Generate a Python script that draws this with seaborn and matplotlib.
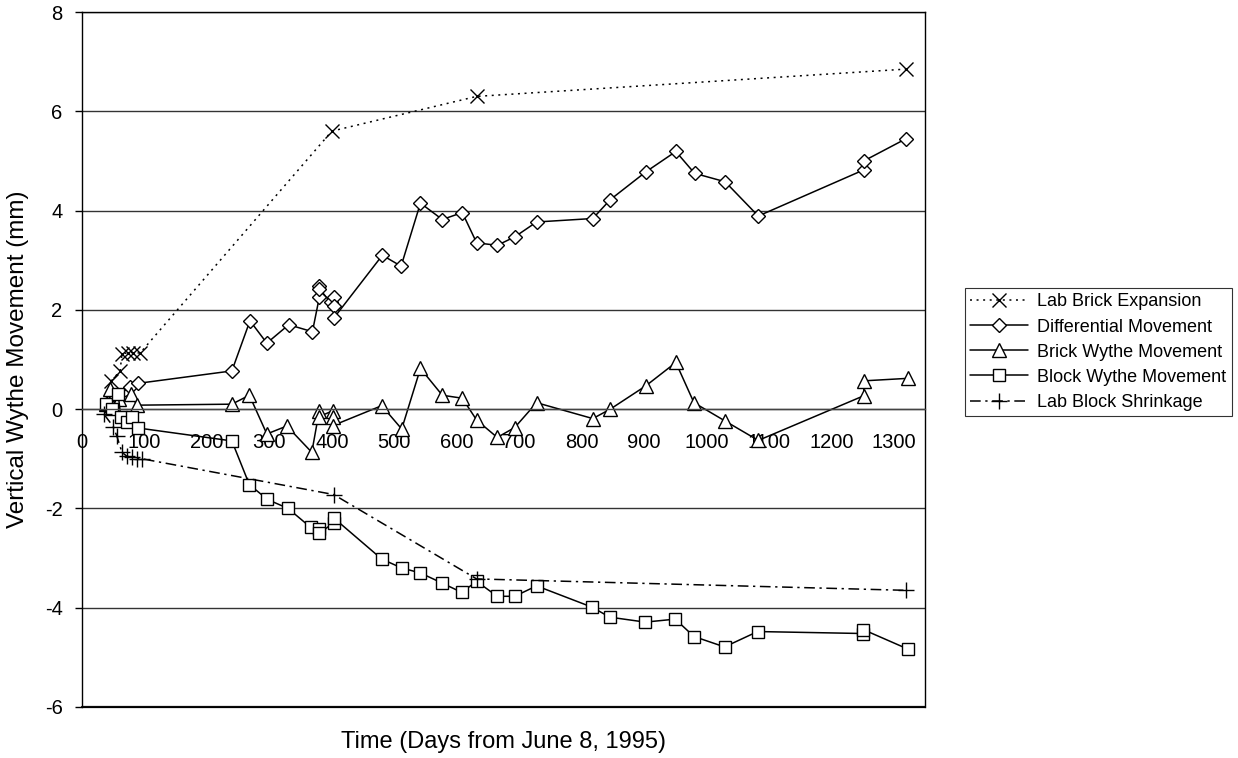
import matplotlib
matplotlib.use("Agg")
import matplotlib.pyplot as plt
import seaborn as sns

# data (days from June 8, 1995 / mm)
brick_exp_days = [47, 61, 64, 74, 82, 93, 400, 632, 1320]
brick_exp_mm = [0.57, 0.77, 1.11, 1.14, 1.14, 1.13, 5.6, 6.3, 6.85]

diff_days = [40, 55, 77, 90, 240, 269, 296, 331, 369, 380, 380, 380, 398, 403, 403,
             403, 481, 511, 542, 577, 609, 632, 665, 693, 728, 818, 846, 903, 951,
             981, 1030, 1083, 1252, 1252, 1320]
diff_mm = [0.05, 0.25, 0.45, 0.52, 0.77, 1.78, 1.33, 1.70, 1.56, 2.25, 2.49, 2.43, 2.15,
           2.26, 2.07, 1.83, 3.10, 2.88, 4.15, 3.82, 3.96, 3.35, 3.30, 3.47, 3.77, 3.84,
           4.22, 4.78, 5.19, 4.75, 4.58, 3.89, 4.82, 5.0, 5.45]

brick_days = [38, 45, 60, 78, 88, 240, 268, 296, 328, 368, 380, 380, 402, 402, 402,
              480, 512, 542, 577, 609, 632, 665, 693, 728, 818, 846, 903, 951, 980,
              1030, 1083, 1252, 1252, 1322]
brick_mm = [0.1, 0.4, 0.2, 0.3, 0.08, 0.1, 0.28, -0.5, -0.34, -0.87, -0.03, -0.15,
            -0.03, -0.15, -0.33, 0.07, -0.40, 0.82, 0.28, 0.22, -0.22, -0.57, -0.37,
            0.13, -0.19, 0.0, 0.47, 0.94, 0.13, -0.24, -0.63, 0.27, 0.57, 0.62]

block_days = [38, 48, 58, 62, 72, 80, 90, 240, 268, 297, 330, 366, 380, 380, 403, 403,
              480, 512, 542, 576, 608, 632, 665, 693, 728, 817, 845, 902, 950, 980,
              1029, 1082, 1251, 1251, 1322]
block_mm = [0.1, 0.0, 0.3, -0.15, -0.25, -0.15, -0.38, -0.64, -1.52, -1.82, -2.0, -2.38,
            -2.42, -2.5, -2.29, -2.19, -3.02, -3.2, -3.3, -3.5, -3.69, -3.47, -3.77,
            -3.77, -3.56, -3.99, -4.19, -4.29, -4.23, -4.58, -4.79, -4.48, -4.52,
            -4.44, -4.83]

shrink_days = [35, 50, 56, 64, 72, 80, 88, 96, 403, 632, 1320]
shrink_mm = [-0.1, -0.35, -0.55, -0.87, -0.95, -0.97, -1.0, -1.0, -1.72, -3.42, -3.65]

x_ticks = list(range(0, 1301, 100))
y_ticks = [-6, -4, -2, 0, 2, 4, 6, 8]

sns.set_style("white")
plt.rcParams["font.family"] = ["Liberation Sans", "DejaVu Sans"]
plt.rcParams["axes.unicode_minus"] = False
plt.rcParams["text.color"] = "black"
plt.rcParams["axes.labelcolor"] = "black"

fig = plt.figure(figsize=(12.38, 7.58), dpi=100)
ax = fig.add_axes([82 / 1238, 1 - 707 / 758, 843 / 1238, 695 / 758])

common = dict(color="black", lw=1.1, mec="black", mew=1.0, estimator=None, sort=False, ax=ax)
sns.lineplot(x=brick_exp_days, y=brick_exp_mm, marker="x", ms=10, linestyle=(0, (1.3, 3.0)),
             label="Lab Brick Expansion", **common)
sns.lineplot(x=diff_days, y=diff_mm, marker="D", ms=7, mfc="white",
             label="Differential Movement", **common)
sns.lineplot(x=brick_days, y=brick_mm, marker="^", ms=10, mfc="white",
             label="Brick Wythe Movement", **common)
sns.lineplot(x=block_days, y=block_mm, marker="s", ms=9, mfc="white",
             label="Block Wythe Movement", **common)
sns.lineplot(x=shrink_days, y=shrink_mm, marker="+", ms=11, linestyle=(0, (7, 3, 1.5, 3)),
             label="Lab Block Shrinkage", **common)

ax.set_xlim(0, 1350)
ax.set_ylim(-6, 8)
ax.set_xticks(x_ticks)
ax.set_yticks(y_ticks)
ax.yaxis.grid(True, color="#333333", lw=1.0)
ax.set_axisbelow(True)
# bottom frame line of the plot area (the x axis itself sits at y = 0)
ax.axhline(-6, color="black", lw=1.6, clip_on=False, zorder=0)

for side in ["left", "right", "top"]:
    ax.spines[side].set_color("black")
    ax.spines[side].set_linewidth(1.0)
ax.spines["bottom"].set_position(("data", 0))
ax.spines["bottom"].set_color("#444444")
ax.spines["bottom"].set_linewidth(1.0)

ax.tick_params(axis="x", direction="out", length=4, width=1, pad=13, labelsize=14.5,
               colors="black")
ax.tick_params(axis="y", direction="out", length=5, width=1, pad=9, labelsize=14.5,
               left=True, colors="black")

ax.set_xlabel("Time (Days from June 8, 1995)", fontsize=17)
ax.xaxis.set_label_coords(0.5, -0.034)
ax.set_ylabel("Vertical Wythe Movement (mm)", fontsize=17.5)
ax.yaxis.set_label_coords(-0.076, 0.5)
ax.yaxis.label.set_va("center")

leg = ax.legend(loc="upper left", bbox_to_anchor=(965 / 1238, 1 - 288 / 758),
                bbox_transform=fig.transFigure, borderaxespad=0, fontsize=13,
                frameon=True, fancybox=False, edgecolor="black", handlelength=3.2,
                borderpad=0.3, labelspacing=0.45, handletextpad=0.5)
leg.get_frame().set_linewidth(0.8)

fig.savefig("out.png", dpi=100, facecolor="white")
